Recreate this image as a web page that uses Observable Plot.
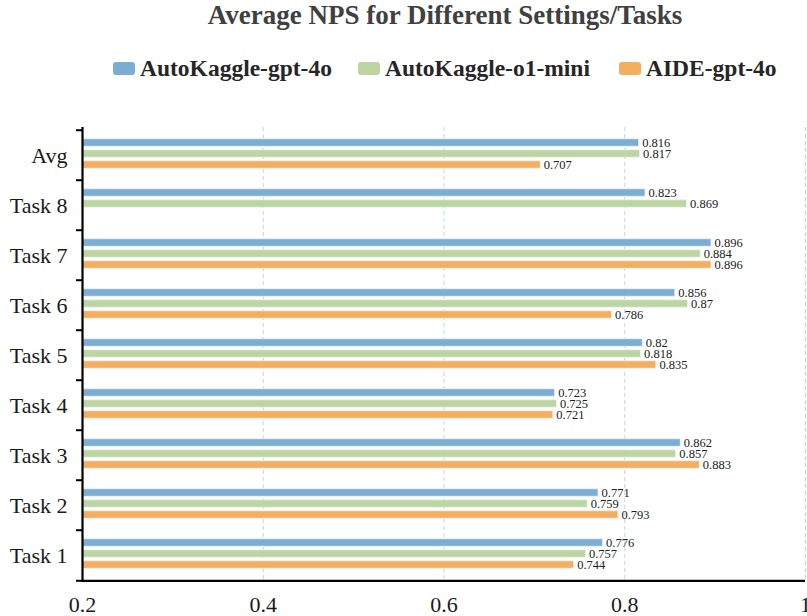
<!DOCTYPE html>
<html>
<head>
<meta charset="utf-8">
<script src="https://cdn.jsdelivr.net/npm/d3@7"></script>
<script src="https://cdn.jsdelivr.net/npm/@observablehq/plot@0.6"></script>
<style>
  html, body { margin: 0; padding: 0; background: #fff; }
  body { width: 807px; height: 616px; position: relative; overflow: hidden; font-family: "Liberation Serif", "DejaVu Serif", serif; }
  #title { position: absolute; top: 0px; left: 0; width: 890px; text-align: center; font-size: 27px; font-weight: bold; color: #404040; }
  .leg { position: absolute; top: 55px; display: flex; align-items: center; font-size: 23.5px; font-weight: bold; color: #262626; white-space: nowrap; }
  .sw { width: 22px; height: 13px; border-radius: 3px; margin-right: 5px; }
  #chart { position: absolute; top: 100px; left: 0; }
</style>
</head>
<body>
<div id="title">Average NPS for Different Settings/Tasks</div>
<div id="legend"></div>
<div id="chart"></div>
<script>
const tasks = ["Task 1", "Task 2", "Task 3", "Task 4", "Task 5", "Task 6", "Task 7", "Task 8", "Avg"];
const series = ["AutoKaggle-gpt-4o", "AutoKaggle-o1-mini", "AIDE-gpt-4o"];
const colors = ["#7caed4", "#bdd6a1", "#f5ae5e"];
const gpt4o  = [0.776, 0.771, 0.862, 0.723, 0.820, 0.856, 0.896, 0.823, 0.816];
const o1mini = [0.757, 0.759, 0.857, 0.725, 0.818, 0.870, 0.884, 0.869, 0.817];
const aide   = [0.744, 0.793, 0.883, 0.721, 0.835, 0.786, 0.896, null, 0.707];
const labels = [
  ["0.776", "0.771", "0.862", "0.723", "0.82", "0.856", "0.896", "0.823", "0.816"],
  ["0.757", "0.759", "0.857", "0.725", "0.818", "0.87", "0.884", "0.869", "0.817"],
  ["0.744", "0.793", "0.883", "0.721", "0.835", "0.786", "0.896", "", "0.707"]
];
const xTicks = [0.2, 0.4, 0.6, 0.8, 1];
const xTickLabels = ["0.2", "0.4", "0.6", "0.8", "1"];
const legendX = [113, 358, 619];

const valuesBySeries = [gpt4o, o1mini, aide];
const rows = [];
valuesBySeries.forEach((vals, s) => {
  vals.forEach((v, i) => {
    if (v != null) rows.push({task: tasks[i], series: series[s], s, value: v, label: labels[s][i]});
  });
});

// legend
const legend = document.getElementById("legend");
series.forEach((name, i) => {
  const item = document.createElement("div");
  item.className = "leg";
  item.style.left = legendX[i] + "px";
  item.innerHTML = `<div class="sw" style="background:${colors[i]}"></div><span>${name}</span>`;
  legend.appendChild(item);
});

const H = 516, mTop = 27, mBottom = 34;
const band = (H - mTop - mBottom) / tasks.length;
const barH = 8, gap = 11;
const inset = (band - barH) / 2;
const domain = tasks.slice().reverse();

const marks = [
  Plot.gridX(xTicks.slice(1), {stroke: "#c8d2e4", strokeOpacity: 1, strokeDasharray: "4,3", strokeWidth: 1})
];
series.forEach((name, s) => {
  const data = rows.filter(d => d.s === s);
  const off = (s - 1) * gap - 1.5;
  marks.push(Plot.barX(data, {
    y: "task", x1: () => 0.2, x2: "value", fill: colors[s],
    stroke: "#eef3f8", strokeWidth: 0.8,
    insetTop: inset, insetBottom: inset, dy: off
  }));
  marks.push(Plot.text(data, {
    y: "task", x: "value", text: "label", dy: off, dx: 3, textAnchor: "start",
    fontSize: 12.5, fill: "#222", fontFamily: "Liberation Serif"
  }));
});
marks.push(
  Plot.axisY({tickSize: 0, tickPadding: 15, fontSize: 22, fill: "#1a1a1a", label: null, fontFamily: "Liberation Serif"}),
  Plot.axisY(domain, {text: null, tickSize: 6, dy: -band / 2, strokeWidth: 2, stroke: "#000", label: null}),
  Plot.axisY(["Task 1"], {text: null, tickSize: 6, dy: band / 2, strokeWidth: 2, stroke: "#000", label: null}),
  Plot.axisX(xTicks, {tickSize: 0, tickPadding: 14, fontSize: 22, fill: "#1a1a1a", label: null, tickFormat: (d, i) => xTickLabels[i], fontFamily: "Liberation Serif"}),
  Plot.ruleX([0.2], {stroke: "#000", strokeWidth: 2.2}),
  Plot.ruleY(["Task 1"], {y: d => d, dy: band / 2, stroke: "#000", strokeWidth: 2.2})
);

const chart = Plot.plot({
  width: 807,
  height: H,
  marginTop: mTop,
  marginBottom: mBottom,
  marginLeft: 82,
  marginRight: 2,
  style: {fontFamily: "Liberation Serif", background: "transparent", overflow: "visible"},
  x: {domain: [0.2, 1], axis: null},
  y: {domain, padding: 0, axis: null},
  marks
});
document.getElementById("chart").appendChild(chart);
</script>
</body>
</html>
